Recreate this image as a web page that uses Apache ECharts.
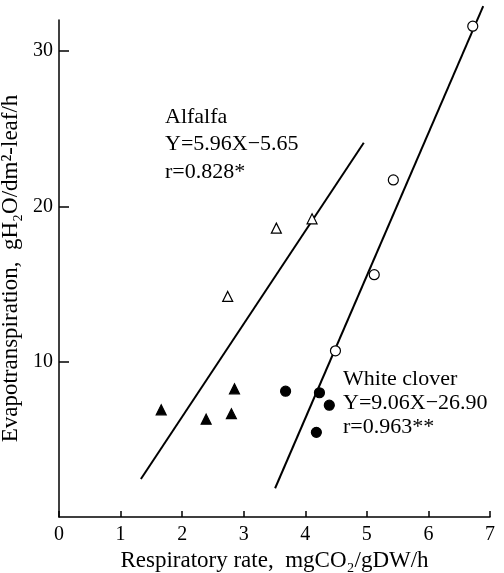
<!DOCTYPE html>
<html>
<head>
<meta charset="utf-8">
<script src="https://cdn.jsdelivr.net/npm/echarts@6/dist/echarts.min.js"></script>
<style>
  html, body { margin: 0; padding: 0; background: #fff; }
  #chart { width: 504px; height: 573px; }
</style>
</head>
<body>
<div id="chart"></div>
<script>
// values
const xTicks = [0, 1, 2, 3, 4, 5, 6, 7];
const yTicks = [10, 20, 30];

// alfalfa: open triangles / filled triangles
const alfalfaOpen = [[2.74, 14.2], [3.53, 18.6], [4.11, 19.2]];
const alfalfaFilled = [[1.66, 6.9], [2.39, 6.3], [2.8, 6.65], [2.85, 8.25]];
// white clover: open circles / filled circles
const cloverOpen = [[4.49, 10.7], [5.12, 15.6], [5.43, 21.7], [6.72, 31.6]];
const cloverFilled = [[3.68, 8.1], [4.23, 8.0], [4.39, 7.2], [4.18, 5.45]];
// regression lines, end points as drawn
const alfalfaLine = [[1.33, 2.45], [4.95, 24.1]];
const cloverLine = [[3.51, 1.85], [6.89, 32.9]];

const alfalfaText = ['Alfalfa', 'Y=5.96X\u22125.65', 'r=0.828*'];
const cloverText = ['White clover', 'Y=9.06X\u221226.90', 'r=0.963**'];

const font = 'Liberation Serif';

let myChart = echarts.init(document.getElementById('chart'));

function lineSeries(data) {
  return {
    type: 'line',
    data: data,
    symbol: 'none',
    clip: false,
    z: 2,
    lineStyle: { color: '#000', width: 2 },
    silent: true
  };
}

function markSeries(data, symbol, hollow) {
  return {
    type: 'scatter',
    data: data,
    symbol: symbol,
    symbolSize: 10,
    z: 5,
    itemStyle: {
      color: hollow ? '#fff' : '#000',
      borderColor: '#000',
      borderWidth: 1.2,
      opacity: 1
    }
  };
}

let option = {
  animation: false,
  backgroundColor: '#fff',
  grid: { left: 59, right: 14, top: 20, bottom: 56, outerBoundsMode: 'none', containLabel: false },
  xAxis: {
    type: 'value',
    min: 0,
    max: 7,
    interval: 1,
    name: 'Respiratory rate,  mgCO\u2082/gDW/h',
    nameLocation: 'middle',
    nameGap: 32,
    nameTextStyle: { fontFamily: font, fontSize: 23, color: '#000' },
    axisLine: { lineStyle: { color: '#000', width: 1.5 } },
    axisTick: { inside: true, length: 6, lineStyle: { color: '#000', width: 1.5 }, customValues: xTicks },
    axisLabel: { fontFamily: font, fontSize: 20, color: '#000', margin: 8, customValues: xTicks },
    splitLine: { show: false }
  },
  yAxis: {
    type: 'value',
    min: 0,
    max: 32,
    name: 'Evapotranspiration,  gH\u2082O/dm\u00b2-leaf/h',
    nameLocation: 'middle',
    nameGap: 32,
    nameTextStyle: { fontFamily: font, fontSize: 23, color: '#000' },
    axisLine: { onZero: false, lineStyle: { color: '#000', width: 1.5 } },
    axisTick: { inside: true, length: 10, lineStyle: { color: '#000', width: 1.5 }, customValues: yTicks },
    axisLabel: { fontFamily: font, fontSize: 20, color: '#000', margin: 6, customValues: yTicks },
    splitLine: { show: false }
  },
  graphic: [
    {
      type: 'text',
      left: 165,
      top: 103,
      style: {
        text: alfalfaText.join('\n'),
        font: '22px "Liberation Serif"',
        lineHeight: 27.5,
        fill: '#000'
      }
    },
    {
      type: 'text',
      left: 343,
      top: 367,
      style: {
        text: cloverText.join('\n'),
        font: '22px "Liberation Serif"',
        lineHeight: 24,
        fill: '#000'
      }
    }
  ],
  series: [
    lineSeries(alfalfaLine),
    lineSeries(cloverLine),
    markSeries(alfalfaOpen, 'triangle', true),
    markSeries(alfalfaFilled, 'triangle', false),
    markSeries(cloverOpen, 'circle', true),
    markSeries(cloverFilled, 'circle', false)
  ]
};

myChart.setOption(option);
</script>
</body>
</html>
